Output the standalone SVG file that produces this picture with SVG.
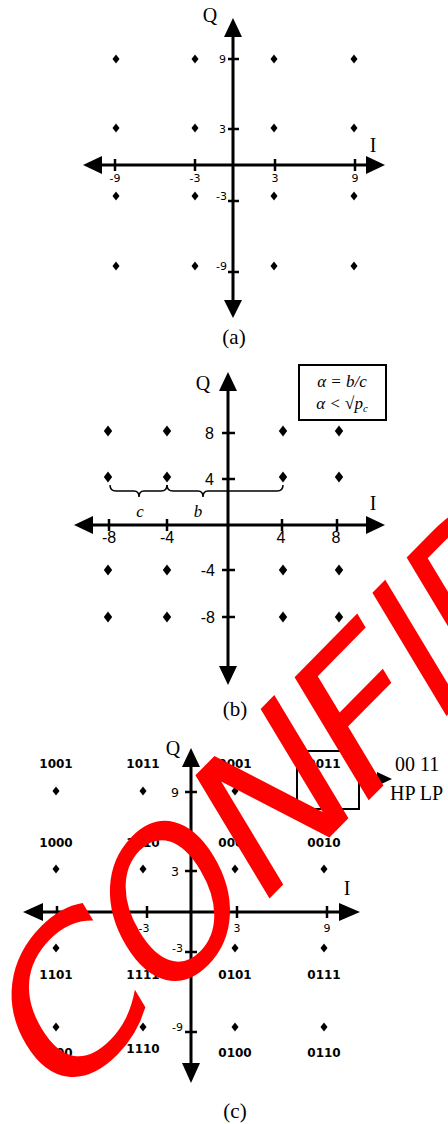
<svg xmlns="http://www.w3.org/2000/svg" width="448" height="1124" viewBox="0 0 448 1124">
<style>
.ax{stroke:#000;stroke-width:3;fill:none}
.tk{stroke:#000;stroke-width:2.5}
.ah{fill:#000}
.tl{font-family:"DejaVu Sans",sans-serif;font-size:11px;fill:#000}
.tlc{font-family:"DejaVu Sans",sans-serif;font-size:12.5px;fill:#000}
.tlb{font-family:"Liberation Sans",sans-serif;font-size:16px;fill:#000}
.ser{font-family:"Liberation Serif",serif;font-size:20px;fill:#000}
.cap{font-family:"Liberation Serif",serif;font-size:21px;fill:#000}
.bit{font-family:"DejaVu Sans",sans-serif;font-weight:bold;font-size:12px;fill:#000}
.it{font-family:"Liberation Serif",serif;font-style:italic;font-size:17px;fill:#000}
.br{stroke:#000;stroke-width:1.5;fill:none}
.box{stroke:#000;stroke-width:2;fill:none}
.wm{font-family:"DejaVu Sans",sans-serif;font-size:165px;fill:#ff0000;text-anchor:middle}
</style>
<defs>
<path id="d" d="M0,-4.5L3.5,0L0,4.5L-3.5,0Z" fill="#000"/>
<path id="D" d="M0,-5.5L4.2,0L0,5.5L-4.2,0Z" fill="#000"/>
</defs>
<rect width="448" height="1124" fill="#fff"/>

<g id="panel-a">
<line class="ax" x1="233" y1="34" x2="233" y2="303"/>
<polygon class="ah" points="233,18 224,37 242,37"/>
<polygon class="ah" points="233,318 224,300 242,300"/>
<line class="ax" x1="100" y1="165" x2="368" y2="165"/>
<polygon class="ah" points="83,165 102,156 102,174"/>
<polygon class="ah" points="385,165 366,156 366,174"/>
<g class="tk">
<line x1="115" y1="159" x2="115" y2="171"/><line x1="195" y1="159" x2="195" y2="171"/>
<line x1="275" y1="159" x2="275" y2="171"/><line x1="355" y1="159" x2="355" y2="171"/>
<line x1="228" y1="59" x2="239" y2="59"/><line x1="228" y1="129" x2="239" y2="129"/>
<line x1="228" y1="201" x2="239" y2="201"/><line x1="228" y1="272" x2="239" y2="272"/>
</g>
<g class="tl" text-anchor="middle">
<text x="115" y="182">-9</text><text x="195" y="182">-3</text>
<text x="275" y="182">3</text><text x="355" y="182">9</text>
</g>
<g class="tl" text-anchor="end">
<text x="226" y="63">9</text><text x="226" y="133">3</text>
<text x="227" y="200">-3</text><text x="227" y="270">-9</text>
</g>
<use href="#d" x="116" y="59"/><use href="#d" x="195" y="59"/><use href="#d" x="274" y="59"/><use href="#d" x="354" y="59"/>
<use href="#d" x="116" y="128"/><use href="#d" x="195" y="128"/><use href="#d" x="274" y="128"/><use href="#d" x="354" y="128"/>
<use href="#d" x="116" y="196"/><use href="#d" x="195" y="196"/><use href="#d" x="274" y="196"/><use href="#d" x="354" y="196"/>
<use href="#d" x="116" y="266"/><use href="#d" x="195" y="266"/><use href="#d" x="274" y="266"/><use href="#d" x="354" y="266"/>
<text class="ser" x="210" y="22" text-anchor="middle">Q</text>
<text class="ser" x="373" y="152" text-anchor="middle">I</text>
<text class="cap" x="234" y="344" text-anchor="middle">(a)</text>
</g>

<g id="panel-b">
<line class="ax" x1="228" y1="388" x2="228" y2="669"/>
<polygon class="ah" points="228,372 219,391 237,391"/>
<polygon class="ah" points="228,685 219,666 237,666"/>
<line class="ax" x1="90" y1="525" x2="369" y2="525"/>
<polygon class="ah" points="74,525 93,516 93,534"/>
<polygon class="ah" points="385,525 366,516 366,534"/>
<g class="tk">
<line x1="109" y1="519" x2="109" y2="531"/><line x1="167" y1="519" x2="167" y2="531"/>
<line x1="282" y1="519" x2="282" y2="531"/><line x1="337" y1="519" x2="337" y2="531"/>
<line x1="222" y1="433" x2="235" y2="433"/><line x1="222" y1="479" x2="235" y2="479"/>
<line x1="222" y1="570" x2="235" y2="570"/><line x1="222" y1="617" x2="235" y2="617"/>
</g>
<g class="tlb" text-anchor="middle">
<text x="109" y="543">-8</text><text x="167" y="543">-4</text>
<text x="281" y="543">4</text><text x="336" y="543">8</text>
</g>
<g class="tlb" text-anchor="end">
<text x="214" y="439">8</text><text x="214" y="485">4</text>
<text x="215" y="576">-4</text><text x="215" y="623">-8</text>
</g>
<use href="#D" x="108" y="431"/><use href="#D" x="167" y="431"/><use href="#D" x="283" y="431"/><use href="#D" x="339" y="431"/>
<use href="#D" x="108" y="477"/><use href="#D" x="167" y="477"/><use href="#D" x="283" y="477"/><use href="#D" x="339" y="477"/>
<use href="#D" x="108" y="570"/><use href="#D" x="167" y="570"/><use href="#D" x="283" y="570"/><use href="#D" x="339" y="570"/>
<use href="#D" x="108" y="617"/><use href="#D" x="167" y="617"/><use href="#D" x="283" y="617"/><use href="#D" x="339" y="617"/>
<path class="br" d="M110,485 Q110,491 116,491 L134,491 Q139,491 139,497 Q139,491 144,491 L161,491 Q167,491 167,485"/>
<path class="br" d="M167,485 Q167,491 173,491 L198,491 Q203,491 203,497 Q203,491 208,491 L277,491 Q283,491 283,485"/>
<text class="it" x="140" y="517" text-anchor="middle">c</text>
<text class="it" x="198" y="517" text-anchor="middle">b</text>
<rect class="box" x="299" y="365" width="87" height="55"/>
<text class="it" x="342" y="387" text-anchor="middle">α = b/c</text>
<text class="it" x="342" y="409" text-anchor="middle">α &lt; √p<tspan font-size="11" dy="3">c</tspan></text>
<text class="ser" x="203" y="390" text-anchor="middle">Q</text>
<text class="ser" x="373" y="510" text-anchor="middle">I</text>
<text class="cap" x="235" y="716" text-anchor="middle">(b)</text>
</g>

<g id="panel-c">
<line class="ax" x1="191" y1="765" x2="191" y2="1065"/>
<polygon class="ah" points="191,748 182,767 200,767"/>
<polygon class="ah" points="191,1083 182,1063 200,1063"/>
<line class="ax" x1="41" y1="912" x2="341" y2="912"/>
<polygon class="ah" points="23,912 43,903 43,921"/>
<polygon class="ah" points="360,912 339,903 339,921"/>
<g class="tk">
<line x1="57" y1="906" x2="57" y2="918"/><line x1="147" y1="906" x2="147" y2="918"/>
<line x1="237" y1="906" x2="237" y2="918"/><line x1="327" y1="906" x2="327" y2="918"/>
<line x1="185" y1="792" x2="197" y2="792"/><line x1="185" y1="871" x2="197" y2="871"/>
<line x1="185" y1="952" x2="197" y2="952"/><line x1="185" y1="1032" x2="197" y2="1032"/>
</g>
<g class="tl" text-anchor="middle">
<text x="144" y="932">-3</text><text x="237" y="932">3</text><text x="327" y="932">9</text>
</g>
<g class="tlc" text-anchor="end">
<text x="179" y="797">9</text><text x="179" y="876">3</text>
</g>
<g class="tl" text-anchor="end">
<text x="183" y="952">-3</text><text x="183" y="1031">-9</text>
</g>
<use href="#d" x="56" y="791"/><use href="#d" x="143" y="791"/><use href="#d" x="235" y="791"/><use href="#d" x="324" y="791"/>
<use href="#d" x="56" y="869"/><use href="#d" x="143" y="869"/><use href="#d" x="235" y="869"/><use href="#d" x="324" y="869"/>
<use href="#d" x="56" y="948"/><use href="#d" x="143" y="948"/><use href="#d" x="235" y="948"/><use href="#d" x="324" y="948"/>
<use href="#d" x="56" y="1027"/><use href="#d" x="143" y="1027"/><use href="#d" x="235" y="1027"/><use href="#d" x="324" y="1027"/>
<g class="bit" text-anchor="middle">
<text x="56" y="768">1001</text><text x="143" y="768">1011</text><text x="235" y="768">0001</text><text x="324" y="768">0011</text>
<text x="56" y="847">1000</text><text x="143" y="847">1010</text><text x="235" y="847">0000</text><text x="324" y="847">0010</text>
<text x="56" y="979">1101</text><text x="143" y="979">1111</text><text x="235" y="979">0101</text><text x="324" y="979">0111</text>
<text x="56" y="1057">1100</text><text x="143" y="1053">1110</text><text x="235" y="1057">0100</text><text x="324" y="1057">0110</text>
</g>
<rect class="box" x="297" y="751" width="62" height="58"/>
<line x1="359" y1="779" x2="379" y2="779" stroke="#000" stroke-width="2"/>
<polygon class="ah" points="392,779 377,772 377,786"/>
<text class="ser" x="395" y="771" font-size="19">00 11</text>
<text class="ser" x="390" y="800" font-size="19">HP LP</text>
<text class="ser" x="173" y="755" text-anchor="middle">Q</text>
<text class="ser" x="347" y="895" text-anchor="middle">I</text>
<text class="cap" x="235" y="1118" text-anchor="middle">(c)</text>
</g>

<g id="watermark">
<text class="wm" x="0" y="60" transform="translate(70,1000) scale(1,1.3) rotate(-38) scale(1.15,1)">C</text>
<text class="wm" x="0" y="60" transform="translate(170,901) scale(1,1.3) rotate(-38)">O</text>
<text class="wm" x="0" y="60" transform="translate(272,797) scale(1,1.3) rotate(-38) scale(1.1,1)">N</text>
<text class="wm" x="0" y="60" transform="translate(360,710) scale(1,1.3) rotate(-38) scale(1.15,1)">F</text>
<text class="wm" x="0" y="60" transform="translate(416,648) scale(1,1.3) rotate(-38)">I</text>
<text class="wm" x="-24" y="60" transform="translate(450,613) scale(1,1.3) rotate(-38)" text-anchor="start" style="text-anchor:start">D</text>
</g>
</svg>
